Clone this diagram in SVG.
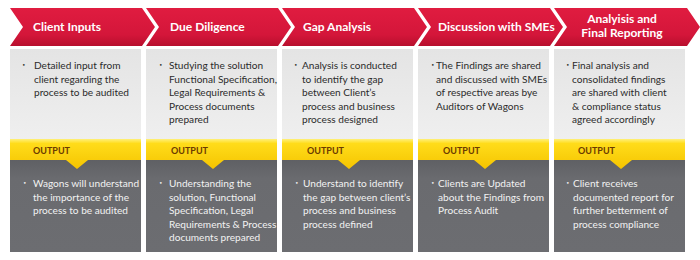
<svg xmlns="http://www.w3.org/2000/svg" width="700" height="260" viewBox="0 0 700 260">
<defs>
<linearGradient id="red" x1="0" y1="0" x2="0" y2="1">
<stop offset="0" stop-color="#e01c40"/>
<stop offset="0.7" stop-color="#d4163a"/>
<stop offset="1" stop-color="#b80f2d"/>
</linearGradient>
<linearGradient id="light" x1="0" y1="0" x2="0" y2="1">
<stop offset="0" stop-color="#e4e4e4"/>
<stop offset="1" stop-color="#efefef"/>
</linearGradient>
<linearGradient id="yel" x1="0" y1="0" x2="0" y2="1">
<stop offset="0" stop-color="#fff07a"/>
<stop offset="0.15" stop-color="#ffdc1a"/>
<stop offset="1" stop-color="#f5c400"/>
</linearGradient>
<linearGradient id="dark" x1="0" y1="0" x2="0" y2="1">
<stop offset="0" stop-color="#5f6064"/>
<stop offset="0.2" stop-color="#6a6b6f"/>
<stop offset="1" stop-color="#6c6d71"/>
</linearGradient>
<g id="col">
<rect x="0" y="49" width="131" height="91" fill="url(#light)"/>
<rect x="0" y="160" width="131" height="92" fill="url(#dark)"/>
<path d="M0 139 H131 V160 H78 L67 169 L56 160 H0 Z" fill="url(#yel)"/>
</g>
</defs>
<style>
.hd{font-family:Lato,"Liberation Sans",sans-serif;font-size:12px;font-weight:bold;fill:#ffffff}
.tx{font-family:Lato,"Liberation Sans",sans-serif;font-size:10.1px;fill:#2b2b2b}
.ot{font-family:Lato,"Liberation Sans",sans-serif;font-size:10.1px;fill:#f2f2f2}
.bt{font-family:"DejaVu Sans",sans-serif;font-size:6px}
.op{font-family:Lato,"Liberation Sans",sans-serif;font-size:9px;font-weight:bold;fill:#6b3a00}
.chev{fill:url(#red)}
</style>
<rect width="700" height="260" fill="#ffffff"/>
<g id="connectors"></g>

<g id="node1">
<path class="chev" d="M10 8 H142 L155 27 L142 46 H10 L23 27 Z"/>
<text class="hd" x="33" y="31">Client Inputs</text>
<use href="#col" x="10"/>
<text class="tx bt" x="22" y="67">•</text>
<text class="tx"><tspan x="34" y="69">Detailed input from</tspan><tspan x="34" y="82.5">client regarding the</tspan><tspan x="34" y="96">process to be audited</tspan></text>
<text class="op" x="33" y="154">OUTPUT</text>
<text class="ot bt" x="23" y="185">•</text>
<text class="ot"><tspan x="33" y="187">Wagons will understand</tspan><tspan x="33" y="200.5">the importance of the</tspan><tspan x="33" y="214">process to be audited</tspan></text>
</g>

<g id="node2">
<path class="chev" d="M146 8 H278 L291 27 L278 46 H146 L159 27 Z"/>
<text class="hd" x="170" y="31">Due Diligence</text>
<use href="#col" x="146"/>
<text class="tx bt" x="159" y="67">•</text>
<text class="tx"><tspan x="169" y="69">Studying the solution</tspan><tspan x="169" y="82.5">Functional Specification,</tspan><tspan x="169" y="96">Legal Requirements &amp;</tspan><tspan x="169" y="109.5">Process documents</tspan><tspan x="169" y="123">prepared</tspan></text>
<text class="op" x="171" y="154">OUTPUT</text>
<text class="ot bt" x="159" y="185">•</text>
<text class="ot"><tspan x="169" y="187">Understanding the</tspan><tspan x="169" y="200.5">solution, Functional</tspan><tspan x="169" y="214">Specification, Legal</tspan><tspan x="169" y="227.5">Requirements &amp; Process</tspan><tspan x="169" y="241">documents prepared</tspan></text>
</g>

<g id="node3">
<path class="chev" d="M282 8 H414 L427 27 L414 46 H282 L295 27 Z"/>
<text class="hd" x="303" y="31">Gap Analysis</text>
<use href="#col" x="282"/>
<text class="tx bt" x="294" y="67">•</text>
<text class="tx"><tspan x="302" y="69">Analysis is conducted</tspan><tspan x="302" y="82.5">to identify the gap</tspan><tspan x="302" y="96">between Client’s</tspan><tspan x="302" y="109.5">process and business</tspan><tspan x="302" y="123">process designed</tspan></text>
<text class="op" x="307" y="154">OUTPUT</text>
<text class="ot bt" x="295" y="185">•</text>
<text class="ot"><tspan x="303" y="187">Understand to identify</tspan><tspan x="303" y="200.5">the gap between client’s</tspan><tspan x="303" y="214">process and business</tspan><tspan x="303" y="227.5">process defined</tspan></text>
</g>

<g id="node4">
<path class="chev" d="M418 8 H550 L563 27 L550 46 H418 L431 27 Z"/>
<text class="hd" x="438" y="31">Discussion with SMEs</text>
<use href="#col" x="418"/>
<text class="tx bt" x="431" y="67">•</text>
<text class="tx"><tspan x="436" y="69">The Findings are shared</tspan><tspan x="436" y="82.5">and discussed with SMEs</tspan><tspan x="436" y="96">of respective areas bye</tspan><tspan x="436" y="109.5">Auditors of Wagons</tspan></text>
<text class="op" x="443" y="154">OUTPUT</text>
<text class="ot bt" x="431" y="185">•</text>
<text class="ot"><tspan x="438" y="187">Clients are Updated</tspan><tspan x="438" y="200.5">about the Findings from</tspan><tspan x="438" y="214">Process Audit</tspan></text>
</g>

<g id="node5">
<path class="chev" d="M554 8 H687 L700 27 L687 46 H554 L567 27 Z"/>
<text class="hd" text-anchor="middle"><tspan x="622" y="23">Analyisis and</tspan><tspan x="622" y="37">Final Reporting</tspan></text>
<use href="#col" x="554"/>
<text class="tx bt" x="566" y="67">•</text>
<text class="tx"><tspan x="572" y="69">Final analysis and</tspan><tspan x="572" y="82.5">consolidated findings</tspan><tspan x="572" y="96">are shared with client</tspan><tspan x="572" y="109.5">&amp; compliance status</tspan><tspan x="572" y="123">agreed accordingly</tspan></text>
<text class="op" x="578" y="154">OUTPUT</text>
<text class="ot bt" x="566" y="185">•</text>
<text class="ot"><tspan x="573" y="187">Client receives</tspan><tspan x="573" y="200.5">documented report for</tspan><tspan x="573" y="214">further betterment of</tspan><tspan x="573" y="227.5">process compliance</tspan></text>
</g>
</svg>
